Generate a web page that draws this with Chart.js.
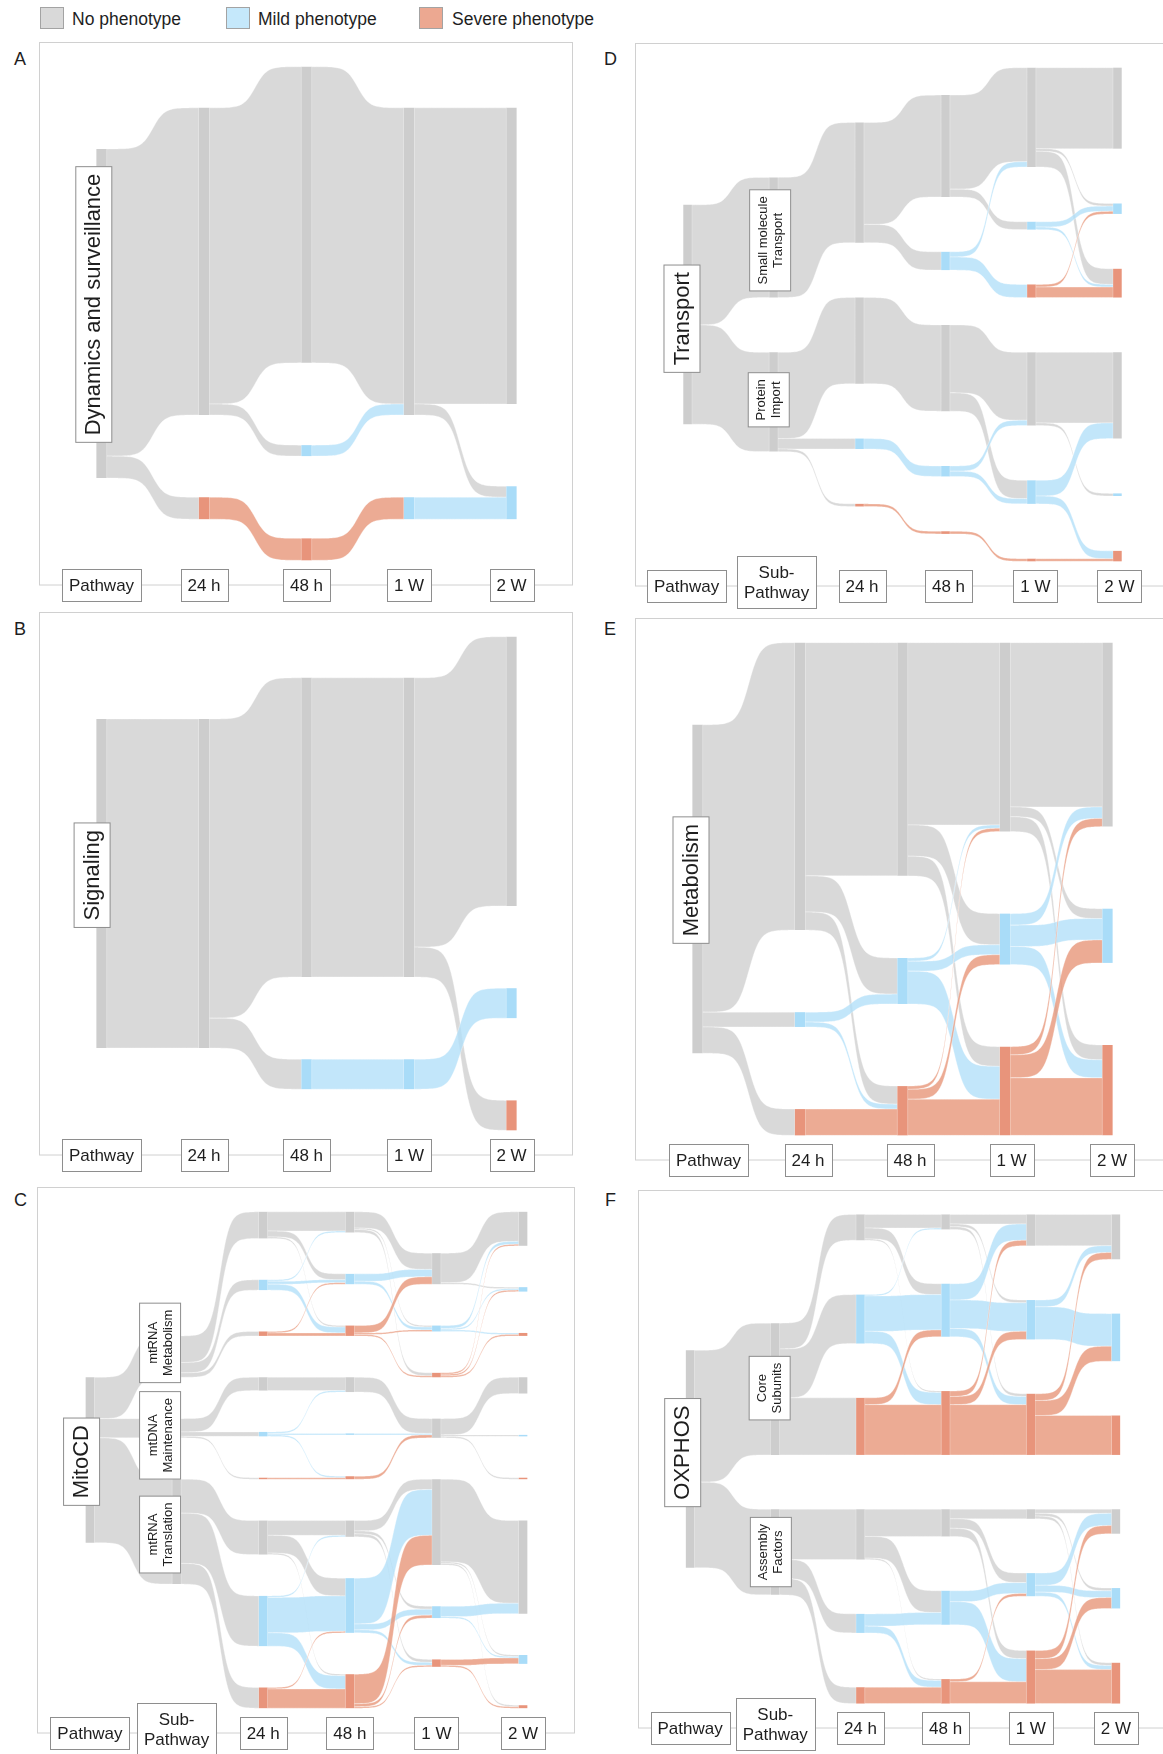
<!DOCTYPE html>
<html>
<head>
<meta charset="utf-8">
<title>Phenotype trajectories by pathway</title>
<script src="https://cdn.jsdelivr.net/npm/chart.js@4.4.1/dist/chart.umd.min.js"></script>
<style>
  html, body { margin: 0; padding: 0; background: #ffffff; overflow: hidden; }
  body { position: relative; width: 1163px; height: 1754px; font-family: "Liberation Sans", Arial, Helvetica, sans-serif; color: #1e1e1e; }
  canvas { position: absolute; }
  .key { position: absolute; top: 7px; width: 24px; height: 22px; box-sizing: border-box; border: 1px solid #a3a3a3; }
  .key-text { position: absolute; top: 9px; font-size: 17.5px; line-height: 20px; white-space: nowrap; }
  .panel-tag { position: absolute; font-size: 18px; line-height: 18px; }
</style>
</head>
<body>
<div class="key" style="left:40px;background:#d9d9d9"></div><div class="key-text" style="left:72px">No phenotype</div>
<div class="key" style="left:226px;background:#c5e8fb"></div><div class="key-text" style="left:258px">Mild phenotype</div>
<div class="key" style="left:419px;background:#eca891"></div><div class="key-text" style="left:452px">Severe phenotype</div>

<div class="panel-tag" style="left:14px;top:49.5px">A</div>
<div class="panel-tag" style="left:14px;top:619.5px">B</div>
<div class="panel-tag" style="left:14px;top:1191px">C</div>
<div class="panel-tag" style="left:604px;top:49.5px">D</div>
<div class="panel-tag" style="left:604px;top:619.5px">E</div>
<div class="panel-tag" style="left:605px;top:1191px">F</div>

<script>
// ---------------------------------------------------------------------------
// Gene counts moving between phenotype classes over time, one alluvial
// diagram per pathway. Each step lists [from node, to node, genes].
// Phenotype nodes of sub-pathway panels are named "<sub-pathway>:<phenotype>".
// ---------------------------------------------------------------------------
const PHENOTYPES = ['No', 'Mild', 'Severe'];

const stagesShort = ['Pathway', '24 h', '48 h', '1 W', '2 W'];
const stagesLong  = ['Pathway', 'Sub-\nPathway', '24 h', '48 h', '1 W', '2 W'];

// A - Dynamics and surveillance
const flowsA = [
  [['Dynamics and surveillance', 'No', 28], ['Dynamics and surveillance', 'Severe', 2]],
  [['No', 'No', 27], ['No', 'Mild', 1], ['Severe', 'Severe', 2]],
  [['No', 'No', 27], ['Mild', 'No', 1], ['Severe', 'Mild', 2]],
  [['No', 'No', 27], ['No', 'Mild', 1], ['Mild', 'Mild', 2]]
];

// B - Signaling
const flowsB = [
  [['Signaling', 'No', 33]],
  [['No', 'No', 30], ['No', 'Mild', 3]],
  [['No', 'No', 30], ['Mild', 'Mild', 3]],
  [['No', 'No', 27], ['No', 'Severe', 3], ['Mild', 'Mild', 3]]
];

// C - MitoCD
const groupsC = ['Met', 'Maint', 'Trans'];
const subLabelsC = ['mtRNA\nMetabolism', 'mtDNA\nMaintenance', 'mtRNA\nTranslation'];
const flowsC = [
  [['MitoCD', 'Met', 28], ['MitoCD', 'Maint', 13], ['MitoCD', 'Trans', 71]],
  [['Met', 'Met:No', 18], ['Met', 'Met:Mild', 7], ['Met', 'Met:Severe', 3],
   ['Maint', 'Maint:No', 9], ['Maint', 'Maint:Mild', 3], ['Maint', 'Maint:Severe', 1],
   ['Trans', 'Trans:No', 23], ['Trans', 'Trans:Mild', 34], ['Trans', 'Trans:Severe', 14]],
  [['Met:No', 'Met:No', 13], ['Met:No', 'Met:Mild', 4], ['Met:No', 'Met:Severe', 1],
   ['Met:Mild', 'Met:No', 1], ['Met:Mild', 'Met:Mild', 2], ['Met:Mild', 'Met:Severe', 4],
   ['Met:Severe', 'Met:Mild', 1], ['Met:Severe', 'Met:Severe', 2],
   ['Maint:No', 'Maint:No', 9], ['Maint:Mild', 'Maint:No', 1], ['Maint:Mild', 'Maint:Mild', 1],
   ['Maint:Mild', 'Maint:Severe', 1], ['Maint:Severe', 'Maint:Severe', 1],
   ['Trans:No', 'Trans:No', 10], ['Trans:No', 'Trans:Mild', 12], ['Trans:No', 'Trans:Severe', 1],
   ['Trans:Mild', 'Trans:No', 1], ['Trans:Mild', 'Trans:Mild', 24], ['Trans:Mild', 'Trans:Severe', 9],
   ['Trans:Severe', 'Trans:Mild', 1], ['Trans:Severe', 'Trans:Severe', 13]],
  [['Met:No', 'Met:No', 11], ['Met:No', 'Met:Mild', 1], ['Met:No', 'Met:Severe', 2],
   ['Met:Mild', 'Met:No', 5], ['Met:Mild', 'Met:Mild', 2],
   ['Met:Severe', 'Met:No', 5], ['Met:Severe', 'Met:Mild', 1], ['Met:Severe', 'Met:Severe', 1],
   ['Maint:No', 'Maint:No', 10], ['Maint:Mild', 'Maint:No', 1], ['Maint:Severe', 'Maint:No', 2],
   ['Trans:No', 'Trans:No', 7], ['Trans:No', 'Trans:Mild', 2], ['Trans:No', 'Trans:Severe', 2],
   ['Trans:Mild', 'Trans:No', 31], ['Trans:Mild', 'Trans:Mild', 4], ['Trans:Mild', 'Trans:Severe', 2],
   ['Trans:Severe', 'Trans:No', 20], ['Trans:Severe', 'Trans:Mild', 2], ['Trans:Severe', 'Trans:Severe', 1]],
  [['Met:No', 'Met:No', 20], ['Met:No', 'Met:Mild', 1],
   ['Met:Mild', 'Met:No', 2], ['Met:Mild', 'Met:Mild', 1], ['Met:Mild', 'Met:Severe', 1],
   ['Met:Severe', 'Met:No', 1], ['Met:Severe', 'Met:Mild', 1], ['Met:Severe', 'Met:Severe', 1],
   ['Maint:No', 'Maint:No', 11], ['Maint:No', 'Maint:Mild', 1], ['Maint:No', 'Maint:Severe', 1],
   ['Trans:No', 'Trans:No', 56], ['Trans:No', 'Trans:Mild', 1], ['Trans:No', 'Trans:Severe', 1],
   ['Trans:Mild', 'Trans:No', 7], ['Trans:Mild', 'Trans:Mild', 1],
   ['Trans:Severe', 'Trans:Mild', 4], ['Trans:Severe', 'Trans:Severe', 1]]
];

// D - Transport
const groupsD = ['SMT', 'PI'];
const subLabelsD = ['Small molecule\nTransport', 'Protein\nImport'];
const flowsD = [
  [['Transport', 'SMT', 46], ['Transport', 'PI', 38]],
  [['SMT', 'SMT:No', 46], ['PI', 'PI:No', 33], ['PI', 'PI:Mild', 4], ['PI', 'PI:Severe', 1]],
  [['SMT:No', 'SMT:No', 39], ['SMT:No', 'SMT:Mild', 7],
   ['PI:No', 'PI:No', 33], ['PI:Mild', 'PI:Mild', 4], ['PI:Severe', 'PI:Severe', 1]],
  [['SMT:No', 'SMT:No', 36], ['SMT:No', 'SMT:Mild', 3],
   ['SMT:Mild', 'SMT:No', 2], ['SMT:Mild', 'SMT:Severe', 5],
   ['PI:No', 'PI:No', 26], ['PI:No', 'PI:Mild', 7],
   ['PI:Mild', 'PI:No', 2], ['PI:Mild', 'PI:Mild', 2], ['PI:Severe', 'PI:Severe', 1]],
  [['SMT:No', 'SMT:No', 31], ['SMT:No', 'SMT:Mild', 1], ['SMT:No', 'SMT:Severe', 6],
   ['SMT:Mild', 'SMT:Mild', 2], ['SMT:Mild', 'SMT:Severe', 1],
   ['SMT:Severe', 'SMT:Mild', 1], ['SMT:Severe', 'SMT:Severe', 4],
   ['PI:No', 'PI:No', 27], ['PI:No', 'PI:Mild', 1],
   ['PI:Mild', 'PI:No', 6], ['PI:Mild', 'PI:Severe', 3], ['PI:Severe', 'PI:Severe', 1]]
];

// E - Metabolism
const flowsE = [
  [['Metabolism', 'No', 175], ['Metabolism', 'Mild', 9], ['Metabolism', 'Severe', 16]],
  [['No', 'No', 142], ['No', 'Mild', 22], ['No', 'Severe', 11],
   ['Mild', 'Mild', 6], ['Mild', 'Severe', 3], ['Severe', 'Severe', 16]],
  [['No', 'No', 111], ['No', 'Mild', 19], ['No', 'Severe', 12],
   ['Mild', 'No', 2], ['Mild', 'Mild', 6], ['Mild', 'Severe', 20],
   ['Severe', 'No', 2], ['Severe', 'Mild', 6], ['Severe', 'Severe', 22]],
  [['No', 'No', 100], ['No', 'Mild', 6], ['No', 'Severe', 9],
   ['Mild', 'No', 7], ['Mild', 'Mild', 13], ['Mild', 'Severe', 11],
   ['Severe', 'No', 5], ['Severe', 'Mild', 14], ['Severe', 'Severe', 35]]
];

// F - OXPHOS
const groupsF = ['Core', 'Asm'];
const subLabelsF = ['Core\nSubunits', 'Assembly\nFactors'];
const flowsF = [
  [['OXPHOS', 'Core', 97], ['OXPHOS', 'Asm', 63]],
  [['Core', 'Core:No', 19], ['Core', 'Core:Mild', 36], ['Core', 'Core:Severe', 42],
   ['Asm', 'Asm:No', 37], ['Asm', 'Asm:Mild', 14], ['Asm', 'Asm:Severe', 12]],
  [['Core:No', 'Core:No', 10], ['Core:No', 'Core:Mild', 8], ['Core:No', 'Core:Severe', 1],
   ['Core:Mild', 'Core:No', 1], ['Core:Mild', 'Core:Mild', 26], ['Core:Mild', 'Core:Severe', 9],
   ['Core:Severe', 'Core:Mild', 5], ['Core:Severe', 'Core:Severe', 37],
   ['Asm:No', 'Asm:No', 20], ['Asm:No', 'Asm:Mild', 16], ['Asm:No', 'Asm:Severe', 1],
   ['Asm:Mild', 'Asm:Mild', 9], ['Asm:Mild', 'Asm:Severe', 5], ['Asm:Severe', 'Asm:Severe', 12]],
  [['Core:No', 'Core:No', 7], ['Core:No', 'Core:Mild', 2], ['Core:No', 'Core:Severe', 2],
   ['Core:Mild', 'Core:No', 12], ['Core:Mild', 'Core:Mild', 21], ['Core:Mild', 'Core:Severe', 6],
   ['Core:Severe', 'Core:No', 4], ['Core:Severe', 'Core:Mild', 6], ['Core:Severe', 'Core:Severe', 37],
   ['Asm:No', 'Asm:No', 7], ['Asm:No', 'Asm:Mild', 7], ['Asm:No', 'Asm:Severe', 6],
   ['Asm:Mild', 'Asm:Mild', 8], ['Asm:Mild', 'Asm:Severe', 17],
   ['Asm:Severe', 'Asm:Mild', 2], ['Asm:Severe', 'Asm:Severe', 16]],
  [['Core:No', 'Core:No', 23],
   ['Core:Mild', 'Core:No', 5], ['Core:Mild', 'Core:Mild', 24],
   ['Core:Severe', 'Core:No', 5], ['Core:Severe', 'Core:Mild', 11], ['Core:Severe', 'Core:Severe', 29],
   ['Asm:No', 'Asm:No', 3], ['Asm:No', 'Asm:Mild', 2], ['Asm:No', 'Asm:Severe', 2],
   ['Asm:Mild', 'Asm:No', 9], ['Asm:Mild', 'Asm:Mild', 5], ['Asm:Mild', 'Asm:Severe', 3],
   ['Asm:Severe', 'Asm:No', 6], ['Asm:Severe', 'Asm:Mild', 8], ['Asm:Severe', 'Asm:Severe', 25]]
];

// ---------------------------------------------------------------------------
// Styling
// ---------------------------------------------------------------------------
const FONT = '"Liberation Sans", Arial, Helvetica, sans-serif';
const TEXT_COLOR = '#1e1e1e';
const BOX_EDGE = '#8e8e8e';
const FRAME_EDGE = '#d0d0d0';
const NODE_FILL = { No: '#cdcdcd', Mild: '#a9dcf8', Severe: '#e8947b' };
const FLOW_FILL = { No: 'rgba(207,207,207,0.8)', Mild: 'rgba(179,224,249,0.8)', Severe: 'rgba(231,150,121,0.8)' };

// Panel placement on the page (frame = plotting area, px)
const panels = [
  { frame: { x: 40,  y: 42,   w: 533, h: 543 }, stages: stagesShort, steps: flowsA, groups: [], pathNudge: [-7.7, -9] },
  { frame: { x: 40,  y: 612,  w: 533, h: 543 }, stages: stagesShort, steps: flowsB, groups: [], pathNudge: [-9.4, -8.3] },
  { frame: { x: 38,  y: 1187, w: 537, h: 546 }, stages: stagesLong, steps: flowsC, groups: groupsC, subLabels: subLabelsC,
    pathNudge: [-8.4, 1.7], subNudge: [[-16.5, -13.7], [-16.5, 7.1], [-16.5, 2.9]] },
  { frame: { x: 636, y: 43,   w: 533, h: 543 }, stages: stagesLong, steps: flowsD, groups: groupsD, subLabels: subLabelsD,
    pathNudge: [-5.6, 4.2], subNudge: [[-3.4, 2.9], [-4.8, -2.2]], tickNudge: [-1, 3, 2.5, 3, 4, 2] },
  { frame: { x: 636, y: 618,  w: 533, h: 542 }, stages: stagesShort, steps: flowsE, groups: [], pathNudge: [-6.5, -8.9],
    tickNudge: [11, 8, 7.5, 6.5, 4.5] },
  { frame: { x: 639, y: 1190, w: 528, h: 538 }, stages: stagesLong, steps: flowsF, groups: groupsF, subLabels: subLabelsF,
    pathNudge: [-7.4, -6.4], subNudge: [[-5.6, -0.9], [-4.4, 0]] }
];

// ---------------------------------------------------------------------------
// Alluvial layout: node stacks are centred per column with a fixed gap,
// links are stacked inside nodes by the order of the node at the other end.
// ---------------------------------------------------------------------------
function phenotypeOf(name) {
  const parts = name.split(':');
  const last = parts[parts.length - 1];
  return PHENOTYPES.includes(last) ? last : null;
}
function rankOf(name, groups) {
  const parts = name.split(':');
  const g = groups.indexOf(parts[0]);
  const p = PHENOTYPES.indexOf(parts[parts.length - 1]);
  return (g < 0 ? 0 : g) * 10 + (p < 0 ? 0 : p + 1);
}
function layout(steps, groups) {
  const cols = [];
  const getNode = (c, name) => {
    cols[c] = cols[c] || [];
    let n = cols[c].find(d => d.name === name);
    if (!n) { n = { name, col: c, inV: 0, outV: 0, outs: [], ins: [] }; cols[c].push(n); }
    return n;
  };
  const links = [];
  steps.forEach((step, c) => step.forEach(([from, to, v]) => {
    const s = getNode(c, from), t = getNode(c + 1, to);
    const l = { s, t, v };
    s.outV += v; t.inV += v; s.outs.push(l); t.ins.push(l); links.push(l);
  }));
  const total = cols[0].reduce((a, n) => a + n.outV, 0);
  const gap = total * 0.25;
  let H = 0;
  cols.forEach(col => {
    col.sort((a, b) => rankOf(a.name, groups) - rankOf(b.name, groups));
    col.forEach((n, i) => { n.v = Math.max(n.inV, n.outV); n.idx = i; });
    const ext = col.reduce((a, n) => a + n.v, 0) + gap * (col.length - 1);
    H = Math.max(H, ext);
    let y = -ext / 2;
    col.forEach(n => { n.y0 = y; n.y1 = y + n.v; y = n.y1 + gap; });
  });
  cols.forEach(col => col.forEach(n => {
    let y = n.y0;
    n.outs.sort((a, b) => a.t.idx - b.t.idx).forEach(l => { l.sy0 = y; y += l.v; l.sy1 = y; });
    y = n.y0;
    n.ins.sort((a, b) => a.s.idx - b.s.idx).forEach(l => { l.ty0 = y; y += l.v; l.ty1 = y; });
  }));
  const nodes = cols.flat();
  nodes.forEach((n, i) => { n.i = i; });
  return { nodes, links, H };
}

// Logistic ribbon profile between two node edges
const SMOOTH = 8;
const logistic = z => 1 / (1 + Math.exp(-z));
const L0 = logistic(-SMOOTH), L1 = logistic(SMOOTH);
const ease = t => (logistic(-SMOOTH + 2 * SMOOTH * t) - L0) / (L1 - L0);

function rotatedBox(ctx, cx, cy, lines, fontPx, lineH, padAlong, padAcross) {
  ctx.save();
  ctx.translate(cx, cy);
  ctx.rotate(-Math.PI / 2);
  ctx.font = fontPx + 'px ' + FONT;
  const tw = Math.max(...lines.map(s => ctx.measureText(s).width));
  const bw = tw + 2 * padAlong, bh = lines.length * lineH + 2 * padAcross;
  ctx.fillStyle = '#ffffff';
  ctx.fillRect(-bw / 2, -bh / 2, bw, bh);
  ctx.strokeStyle = BOX_EDGE; ctx.lineWidth = 1;
  ctx.strokeRect(-bw / 2, -bh / 2, bw, bh);
  ctx.fillStyle = TEXT_COLOR; ctx.textAlign = 'center'; ctx.textBaseline = 'middle';
  lines.forEach((s, i) => ctx.fillText(s, 0, (i - (lines.length - 1) / 2) * lineH + 0.5));
  ctx.restore();
}

function alluvialPlugin(p, L) {
  return {
    id: 'alluvial',
    beforeDraw(chart) {
      const { ctx, chartArea: a } = chart;
      ctx.save();
      ctx.strokeStyle = FRAME_EDGE; ctx.lineWidth = 1;
      ctx.strokeRect(Math.round(a.left) - 0.5, Math.round(a.top) + 0.5, Math.round(a.width), Math.round(a.height) - 0.5);
      ctx.restore();
    },
    beforeDatasetsDraw(chart) {
      const { ctx } = chart;
      const ys = chart.scales.y;
      const bars = chart.getDatasetMeta(0).data;
      ctx.save();
      L.links.forEach(l => {
        const se = bars[l.s.i], te = bars[l.t.i];
        const x0 = se.x + se.width / 2, x1 = te.x - te.width / 2;
        const a0 = ys.getPixelForValue(l.sy0), a1 = ys.getPixelForValue(l.sy1);
        const b0 = ys.getPixelForValue(l.ty0), b1 = ys.getPixelForValue(l.ty1);
        const N = 60;
        ctx.beginPath();
        for (let i = 0; i <= N; i++) {
          const t = i / N, e = ease(t);
          ctx.lineTo(x0 + (x1 - x0) * t, a0 + (b0 - a0) * e);
        }
        for (let i = N; i >= 0; i--) {
          const t = i / N, e = ease(t);
          ctx.lineTo(x0 + (x1 - x0) * t, a1 + (b1 - a1) * e);
        }
        ctx.closePath();
        ctx.fillStyle = FLOW_FILL[phenotypeOf(l.s.name) || 'No'];
        ctx.fill();
        ctx.strokeStyle = 'rgba(255,255,255,0.55)';
        ctx.lineWidth = 0.6;
        ctx.stroke();
      });
      ctx.restore();
    },
    afterDatasetsDraw(chart) {
      const { ctx } = chart;
      const ys = chart.scales.y;
      const bars = chart.getDatasetMeta(0).data;
      L.nodes.filter(n => n.col === 0).forEach(n => {
        const cx = bars[n.i].x + p.pathNudge[0];
        const cy = (ys.getPixelForValue(n.y0) + ys.getPixelForValue(n.y1)) / 2 + p.pathNudge[1];
        rotatedBox(ctx, cx, cy, [n.name], 22, 22, 7, 7);
      });
      if (p.subLabels) {
        L.nodes.filter(n => n.col === 1).forEach(n => {
          const g = p.groups.indexOf(n.name);
          const cx = bars[n.i].x + p.subNudge[g][0];
          const cy = (ys.getPixelForValue(n.y0) + ys.getPixelForValue(n.y1)) / 2 + p.subNudge[g][1];
          rotatedBox(ctx, cx, cy, p.subLabels[g].split('\n'), 13, 15, 6.5, 5.5);
        });
      }
    },
    afterDraw(chart) {
      const { ctx, chartArea: a } = chart;
      const xs = chart.scales.x;
      ctx.save();
      ctx.font = '17px ' + FONT;
      ctx.textAlign = 'center'; ctx.textBaseline = 'middle';
      p.stages.forEach((label, i) => {
        const lines = label.split('\n');
        const cx = xs.getPixelForValue(i) + (p.tickNudge ? p.tickNudge[i] : 0);
        const cy = Math.round(a.bottom) + (lines.length > 1 ? -4 : 0);
        const tw = Math.max(...lines.map(s => ctx.measureText(s).width));
        const bw = Math.round(tw + 14), bh = lines.length * 20 + 12;
        const left = Math.round(cx - bw / 2) + 0.5, top = Math.round(cy - bh / 2) + 0.5;
        ctx.fillStyle = '#ffffff';
        ctx.fillRect(left, top, bw, bh);
        ctx.strokeStyle = BOX_EDGE; ctx.lineWidth = 1;
        ctx.strokeRect(left, top, bw, bh);
        ctx.fillStyle = TEXT_COLOR;
        lines.forEach((s, k) => ctx.fillText(s, cx, cy + (k - (lines.length - 1) / 2) * 20 + 1));
      });
      ctx.restore();
    }
  };
}

function drawPanel(p) {
  const L = layout(p.steps, p.groups);
  const pad = { left: 30, top: 12, right: 10, bottom: 48 };
  const w = p.frame.w + pad.left + pad.right, h = p.frame.h + pad.top + pad.bottom;
  const cv = document.createElement('canvas');
  cv.width = w; cv.height = h;
  cv.style.width = w + 'px'; cv.style.height = h + 'px';
  cv.style.left = (p.frame.x - pad.left) + 'px';
  cv.style.top = (p.frame.y - pad.top) + 'px';
  document.body.appendChild(cv);
  new Chart(cv, {
    type: 'bar',
    data: {
      datasets: [{
        label: 'Phenotype class',
        data: L.nodes.map(n => ({ x: n.col, y: [n.y0, n.y1] })),
        backgroundColor: L.nodes.map(n => NODE_FILL[phenotypeOf(n.name) || 'No']),
        borderWidth: 0,
        barPercentage: 1,
        categoryPercentage: 0.1
      }]
    },
    options: {
      responsive: false,
      animation: false,
      devicePixelRatio: 1,
      events: [],
      layout: { padding: pad },
      plugins: { legend: { display: false }, tooltip: { enabled: false } },
      scales: {
        x: {
          type: 'linear', display: false, offset: false,
          min: -0.6, max: p.stages.length - 0.4,
          afterBuildTicks: ax => { ax.ticks = p.stages.map((s, i) => ({ value: i })); }
        },
        y: {
          type: 'linear', display: false, reverse: true,
          min: -L.H * 0.55, max: L.H * 0.55
        }
      }
    },
    plugins: [alluvialPlugin(p, L)]
  });
}

panels.forEach(drawPanel);
</script>
</body>
</html>
